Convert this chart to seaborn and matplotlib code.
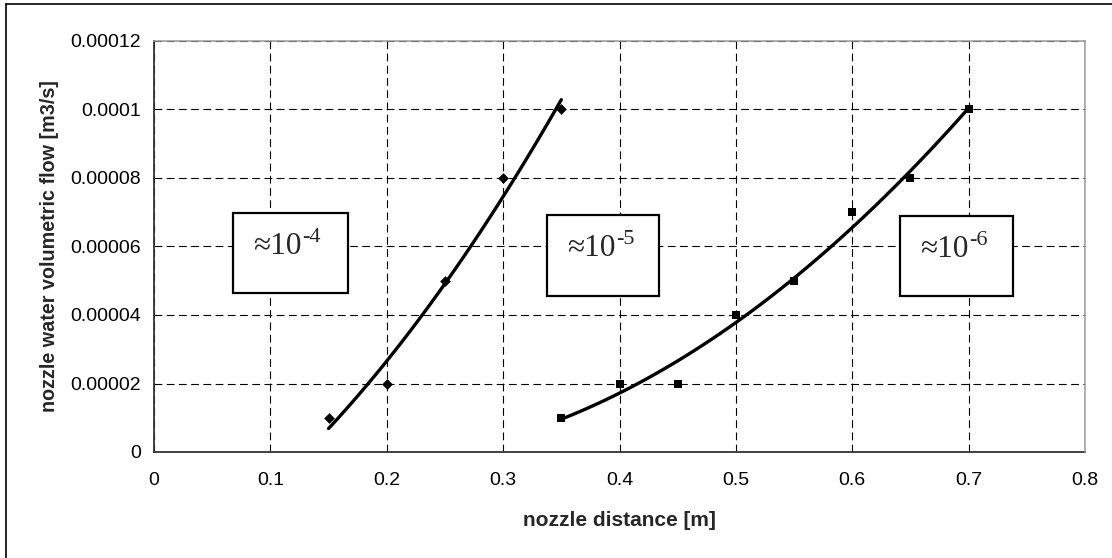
import numpy as np
import pandas as pd
import matplotlib
matplotlib.use("Agg")
import matplotlib.pyplot as plt
import seaborn as sns
from matplotlib.patches import Rectangle
from matplotlib.lines import Line2D
from matplotlib.ticker import FuncFormatter, FixedLocator

# Measured nozzle flow vs. distance, two operating regimes
dist_a = [0.15, 0.20, 0.25, 0.30, 0.35]
flow_a = [0.00001, 0.00002, 0.00005, 0.00008, 0.0001]
dist_b = [0.35, 0.40, 0.45, 0.50, 0.55, 0.60, 0.65, 0.70]
flow_b = [0.00001, 0.00002, 0.00002, 0.00004, 0.00005, 0.00007, 0.00008, 0.0001]

x_ticks = [0, 0.1, 0.2, 0.3, 0.4, 0.5, 0.6, 0.7, 0.8]
y_ticks = [0, 0.00002, 0.00004, 0.00006, 0.00008, 0.0001, 0.00012]
regime_exponents = ["-4", "-5", "-6"]

sns.set_style("white")
plt.rcParams["font.family"] = ["Liberation Sans", "DejaVu Sans"]

W, H = 1112, 558
fig = plt.figure(figsize=(W / 100, H / 100), dpi=100)
ax = fig.add_axes([154 / W, 1 - 452 / H, (1085 - 154) / W, (452 - 41) / H])

# data points
sns.scatterplot(x=dist_a, y=flow_a, marker="D", color="black", s=30,
                linewidth=0, ax=ax, zorder=3)
sns.scatterplot(x=dist_b, y=flow_b, marker="s", color="black", s=26,
                linewidth=0, ax=ax, zorder=3)

# second-order polynomial trendlines
for xs_data, ys_data in ((dist_a, flow_a), (dist_b, flow_b)):
    coef = np.polyfit(xs_data, ys_data, 2)
    xs = np.linspace(min(xs_data), max(xs_data), 120)
    trend = pd.DataFrame({"x": xs, "y": np.polyval(coef, xs)})
    sns.lineplot(data=trend, x="x", y="y", color="black", linewidth=2.4,
                 sort=False, ax=ax, zorder=4)

ax.set_xlim(0, 0.8)
ax.set_ylim(0, 0.00012)
ax.xaxis.set_major_locator(FixedLocator(x_ticks))
ax.yaxis.set_major_locator(FixedLocator(y_ticks))


def plain(v, _pos=None):
    s = f"{v:.5f}".rstrip("0").rstrip(".")
    return s if s else "0"


ax.xaxis.set_major_formatter(FuncFormatter(plain))
ax.yaxis.set_major_formatter(FuncFormatter(plain))

ax.grid(True, color="black", linewidth=0.8, linestyle=(0, (7, 4)))
ax.set_axisbelow(True)

for side in ("left", "bottom"):
    ax.spines[side].set_color("#333333")
    ax.spines[side].set_linewidth(1.3)
for side in ("top", "right"):
    ax.spines[side].set_color("#9a9a9a")
    ax.spines[side].set_linewidth(1.1)
    ax.spines[side].set_zorder(2.6)

ax.tick_params(axis="both", direction="inout", length=7, width=1.0,
               color="#333333", labelsize=14, labelcolor="black")
ax.tick_params(axis="x", pad=11)
ax.tick_params(axis="y", pad=6)

ax.set_xlabel("nozzle distance [m]", fontsize=15, fontweight="bold", labelpad=16)
ax.set_ylabel("nozzle water volumetric flow [m3/s]", fontsize=14.2,
              fontweight="bold", labelpad=8)

# regime annotation boxes
boxes = [(0.068, 0.167, 0.0000464, 0.0000698),
         (0.338, 0.434, 0.0000455, 0.0000692),
         (0.641, 0.738, 0.0000455, 0.0000689)]
px = 0.72  # points per pixel at 100 dpi
for (x0, x1, y0, y1), expo in zip(boxes, regime_exponents):
    ax.add_patch(Rectangle((x0, y0), x1 - x0, y1 - y0, facecolor="white",
                           edgecolor="black", linewidth=1.6, zorder=5))
    ax.annotate("\u224810", xy=(x0, y1), xytext=(20 * px, -41 * px),
                textcoords="offset points", ha="left", va="baseline",
                fontsize=22.5, family="Liberation Serif", zorder=6)
    ax.annotate(expo, xy=(x0, y1), xytext=(69 * px, -29 * px),
                textcoords="offset points", ha="left", va="baseline",
                fontsize=16, family="Liberation Serif", zorder=6)

# outer chart frame
fig.add_artist(Line2D([6 / W, 6 / W], [0, 1 - 4 / H], color="black",
                      linewidth=1.2, transform=fig.transFigure))
fig.add_artist(Line2D([6 / W, 1], [1 - 4 / H, 1 - 4 / H], color="black",
                      linewidth=1.2, transform=fig.transFigure))

fig.savefig("out.png", dpi=100)
